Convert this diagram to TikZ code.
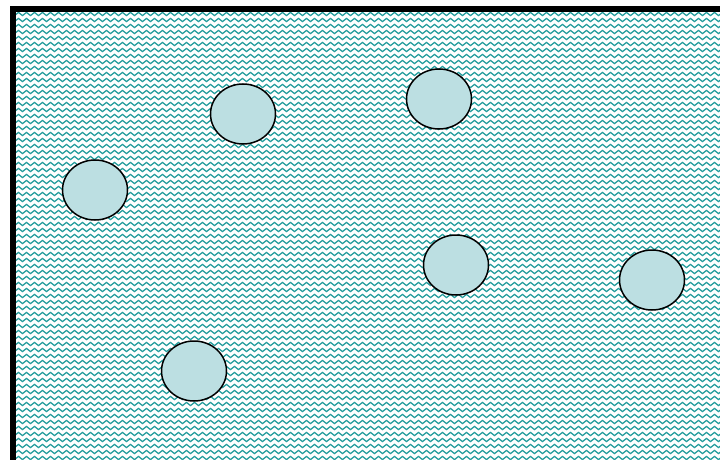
\documentclass[tikz,border=0pt]{standalone}
\usetikzlibrary{shapes.geometric,decorations.pathmorphing}
\definecolor{wavecol}{RGB}{40,158,158}
\definecolor{dropfill}{RGB}{188,223,226}
\tikzset{
  wave/.style={draw=wavecol, line width=1.3pt, decorate,
    decoration={snake, segment length=8pt, amplitude=1.6pt}},
  drop/.style={ellipse, draw=black, line width=1.5pt, fill=dropfill,
    minimum width=65pt, minimum height=60pt, inner sep=0pt}
}
\begin{document}
\begin{tikzpicture}[x=1pt, y=-1pt]
  \useasboundingbox (0,0) rectangle (720,460);

  % wavy background
  \begin{scope}
    \clip (16,12) rectangle (720,460);
    \foreach \y in {14,20,...,464}
      \draw[wave] (8,\y) -- (728,\y);
  \end{scope}

  % frame
  \draw[line width=6pt] (13,470) -- (13,9) -- (730,9);

  % drops
  \node[drop] (d1) at (95,190) {};
  \node[drop] (d2) at (243,114) {};
  \node[drop] (d3) at (439,99) {};
  \node[drop] (d4) at (456,265) {};
  \node[drop] (d5) at (652,280) {};
  \node[drop] (d6) at (194,371) {};
\end{tikzpicture}
\end{document}
